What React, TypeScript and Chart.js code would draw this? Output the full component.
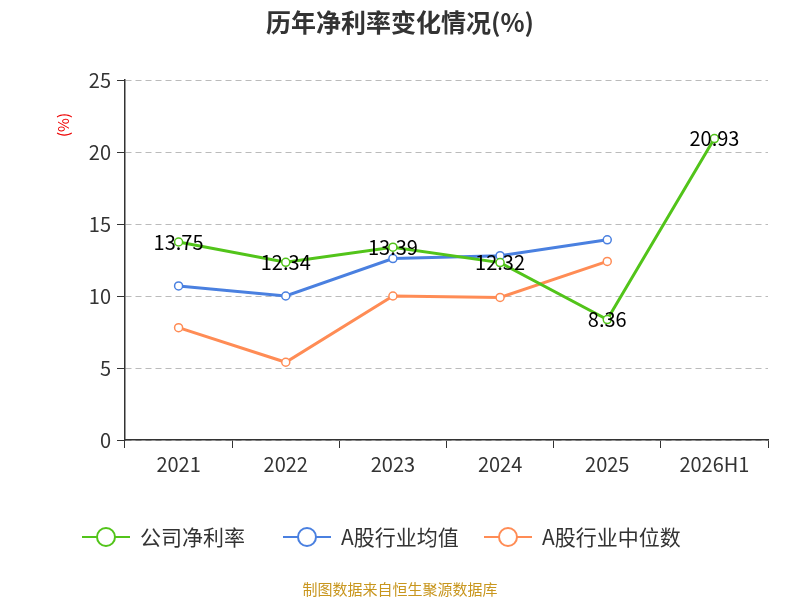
import React, { useEffect, useRef } from "react";
import { Chart, registerables } from "chart.js";
Chart.register(...registerables);

const categories = ["2021", "2022", "2023", "2024", "2025", "2026H1"];
const companyValues = [13.75, 12.34, 13.39, 12.32, 8.36, 20.93];
const industryAvg = [10.7, 10.0, 12.6, 12.8, 13.9, null];
const industryMedian = [7.8, 5.4, 10.0, 9.9, 12.4, null];
const seriesNames = ["公司净利率", "A股行业均值", "A股行业中位数"];
const colors = ["#52c41a", "#4a80e0", "#ff8c55"];
const FONT = "'Noto Sans CJK SC', 'Noto Sans', sans-serif";

const extras = {
  id: "extras",
  afterDraw(chart: any) {
    const ctx = chart.ctx;
    ctx.save();
    ctx.fillStyle = "#333";
    ctx.font = `bold 25px ${FONT}`;
    ctx.textAlign = "center";
    ctx.textBaseline = "middle";
    ctx.fillText("历年净利率变化情况(%)", 400, 22);
    // y unit
    ctx.save();
    ctx.translate(63, 125);
    ctx.rotate(-Math.PI / 2);
    ctx.fillStyle = "#e00";
    ctx.font = `15px ${FONT}`;
    ctx.fillText("(%)", 0, 0);
    ctx.restore();
    // labels
    const meta = chart.getDatasetMeta(0);
    ctx.fillStyle = "#000";
    ctx.font = `20px ${FONT}`;
    meta.data.forEach((p: any, i: number) => {
      ctx.fillText(companyValues[i].toFixed(2), p.x, p.y);
    });
    // legend
    const xs = [82, 283, 484];
    ctx.textAlign = "left";
    ctx.font = `21px ${FONT}`;
    seriesNames.forEach((n, i) => {
      const x = xs[i], y = 537;
      ctx.strokeStyle = colors[i];
      ctx.lineWidth = 2;
      ctx.beginPath(); ctx.moveTo(x, y); ctx.lineTo(x + 48, y); ctx.stroke();
      ctx.beginPath(); ctx.arc(x + 24, y, 9, 0, Math.PI * 2);
      ctx.fillStyle = "#fff"; ctx.fill(); ctx.stroke();
      ctx.fillStyle = "#333";
      ctx.fillText(n, x + 58, y);
    });
    ctx.textAlign = "center";
    ctx.font = `15px ${FONT}`;
    ctx.fillStyle = "#c8961e";
    ctx.fillText("制图数据来自恒生聚源数据库", 400, 589);
    ctx.restore();
  },
};

export default function App() {
  const ref = useRef<HTMLCanvasElement>(null);
  useEffect(() => {
    const mk = (label: string, data: any[], c: string) => ({
      label, data, borderColor: c, backgroundColor: "#fff", borderWidth: 3,
      pointRadius: 4, pointBorderWidth: 1.5, pointBackgroundColor: "#fff", pointBorderColor: c,
      tension: 0, spanGaps: false,
    });
    const chart = new Chart(ref.current!, {
      type: "line",
      data: {
        labels: categories,
        datasets: [
          mk(seriesNames[0], companyValues, colors[0]),
          mk(seriesNames[1], industryAvg, colors[1]),
          mk(seriesNames[2], industryMedian, colors[2]),
        ],
      },
      options: {
        animation: false, responsive: false,
        layout: { padding: { left: 75, right: 32, top: 80, bottom: 115 } },
        plugins: { legend: { display: false }, title: { display: false }, tooltip: { enabled: false } },
        scales: {
          x: {
            offset: true,
            grid: { offset: true, drawOnChartArea: false, color: "#333", tickLength: 8 },
            border: { color: "#333", width: 1.5 },
            ticks: { color: "#333", font: { size: 20, family: FONT }, padding: 4 },
            afterFit: (s: any) => { s.height = 45; },
          },
          y: {
            min: 0, max: 25,
            ticks: { stepSize: 5, color: "#333", font: { size: 20, family: FONT }, padding: 6 },
            grid: { color: "#bbb", tickLength: 8, tickColor: "#333" },
            border: { color: "#333", width: 1.5, dash: [6, 4] },
            afterFit: (s: any) => { s.width = 50; },
          },
        },
      },
      plugins: [extras],
    });
    return () => chart.destroy();
  }, []);
  return (
    <div style={{ position: "fixed", left: 0, top: 0 }}>
      <canvas ref={ref} width={800} height={600} />
    </div>
  );
}
